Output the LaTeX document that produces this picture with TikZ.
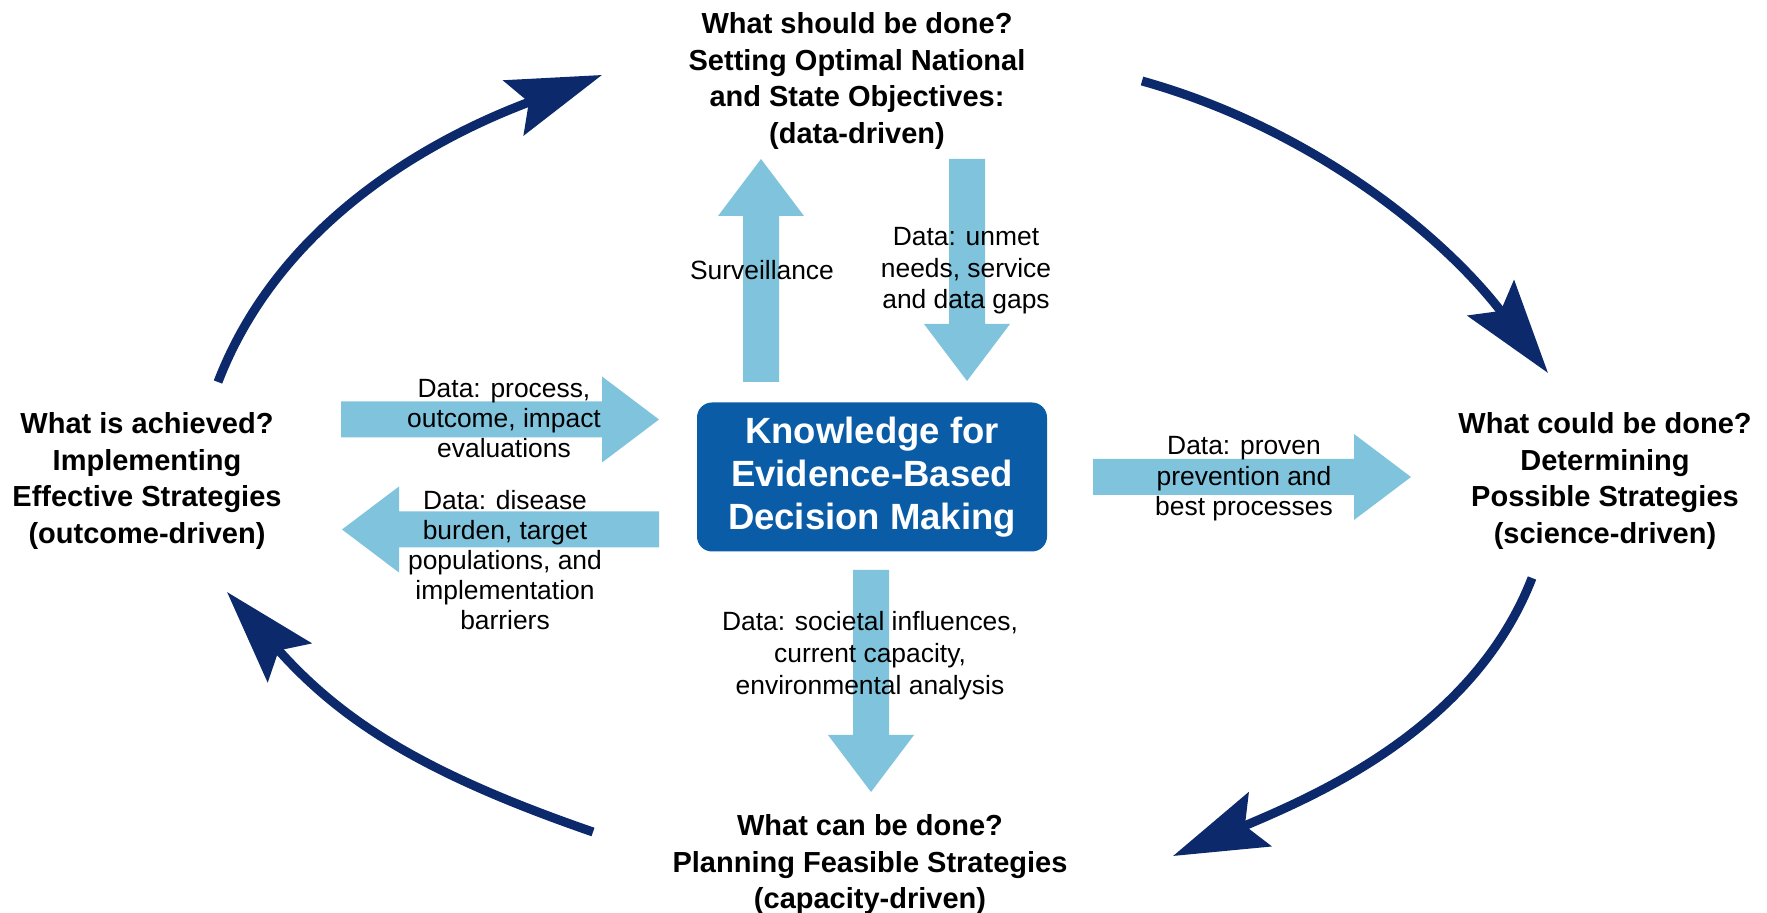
\documentclass[tikz,border=0pt]{standalone}
\usepackage{fontspec}
\setmainfont{Liberation Sans}
\usetikzlibrary{arrows.meta}
\definecolor{hubblue}{RGB}{11,92,166}
\definecolor{flowblue}{RGB}{127,195,221}
\definecolor{cyclenavy}{RGB}{11,41,107}

\begin{document}
\begin{tikzpicture}[x=0.5pt,y=-0.5pt,
    question/.style={align=center,inner sep=0pt,font=\fontsize{14.5}{18.25}\selectfont\bfseries},
    datalabel/.style={align=center,inner sep=0pt,font=\fontsize{13.2}{15}\selectfont},
    hub/.style={fill=hubblue,rounded corners=7.5pt,text=white,align=center,inner sep=0pt,
        minimum width=175pt,minimum height=74.5pt,font=\fontsize{18.25}{21.5}\selectfont\bfseries},
    flow/.style={fill=flowblue},
    cyclearrow/.style={draw=cyclenavy,line width=4.5pt,-{Stealth[length=47pt,width=29pt,inset=8pt]}}]
    \useasboundingbox (0,0) rectangle (1767,913);

    % fat data arrows
    \foreach \x/\y/\a/\len in {761/382/90/223, 967/159/-90/222, 341/419.5/0/318,
        659/529.5/180/317, 1093/477/0/318, 871/570/-90/222} {
        \fill[flow, shift={(\x,\y)}, rotate=\a]
            (0,-18) -- (\len-57,-18) -- (\len-57,-43) -- (\len,0)
            -- (\len-57,43) -- (\len-57,18) -- (0,18) -- cycle;
    }

    \node[hub] (hub) at (872,477) {Knowledge for\\Evidence-Based\\Decision Making};

    \node[question] (should) at (857,81) {What should be done?\\Setting Optimal National\\and State Objectives:\\(data-driven)};
    \node[question] (could) at (1605,481) {What could be done?\\Determining\\Possible Strategies\\(science-driven)};
    \node[question] (can) at (870,865) {What can be done?\\Planning Feasible Strategies\\(capacity-driven)};
    \node[question] (achieved) at (147,481) {What is achieved?\\Implementing\\Effective Strategies\\(outcome-driven)};

    \node[datalabel] (surv) at (762,270) {Surveillance};
    \node[datalabel,font=\fontsize{13.2}{15.75}\selectfont] (gaps) at (966,271) {Data: unmet\\needs, service\\and data gaps};
    \node[datalabel] (process) at (504,419) {Data: process,\\outcome, impact\\evaluations};
    \node[datalabel] (burden) at (505,560) {Data: disease\\burden, target\\populations, and\\implementation\\barriers};
    \node[datalabel,font=\fontsize{13.2}{15.25}\selectfont] (proven) at (1244,479) {Data: proven\\prevention and\\best processes};
    \node[datalabel,font=\fontsize{13.2}{16}\selectfont] (societal) at (870,656) {Data: societal influences,\\current capacity,\\environmental analysis};

    % the cycle
    \coordinate (achieved-out) at (218,382);
    \coordinate (should-in) at (602,75);
    \coordinate (should-out) at (1142,81);
    \coordinate (could-in) at (1548,373);
    \coordinate (could-out) at (1532,578);
    \coordinate (can-in) at (1173,856);
    \coordinate (can-out) at (593,832);
    \coordinate (achieved-in) at (227,592);

    \draw[cyclearrow] (achieved-out) .. controls (281,218) and (438,136) .. (should-in);
    \draw[cyclearrow] (should-out) .. controls (1310,128) and (1442,234) .. (could-in);
    \draw[cyclearrow] (could-out) .. controls (1474,727) and (1320,794) .. (can-in);
    \draw[cyclearrow] (can-out) .. controls (428,775) and (343,723) .. (achieved-in);
\end{tikzpicture}
\end{document}
